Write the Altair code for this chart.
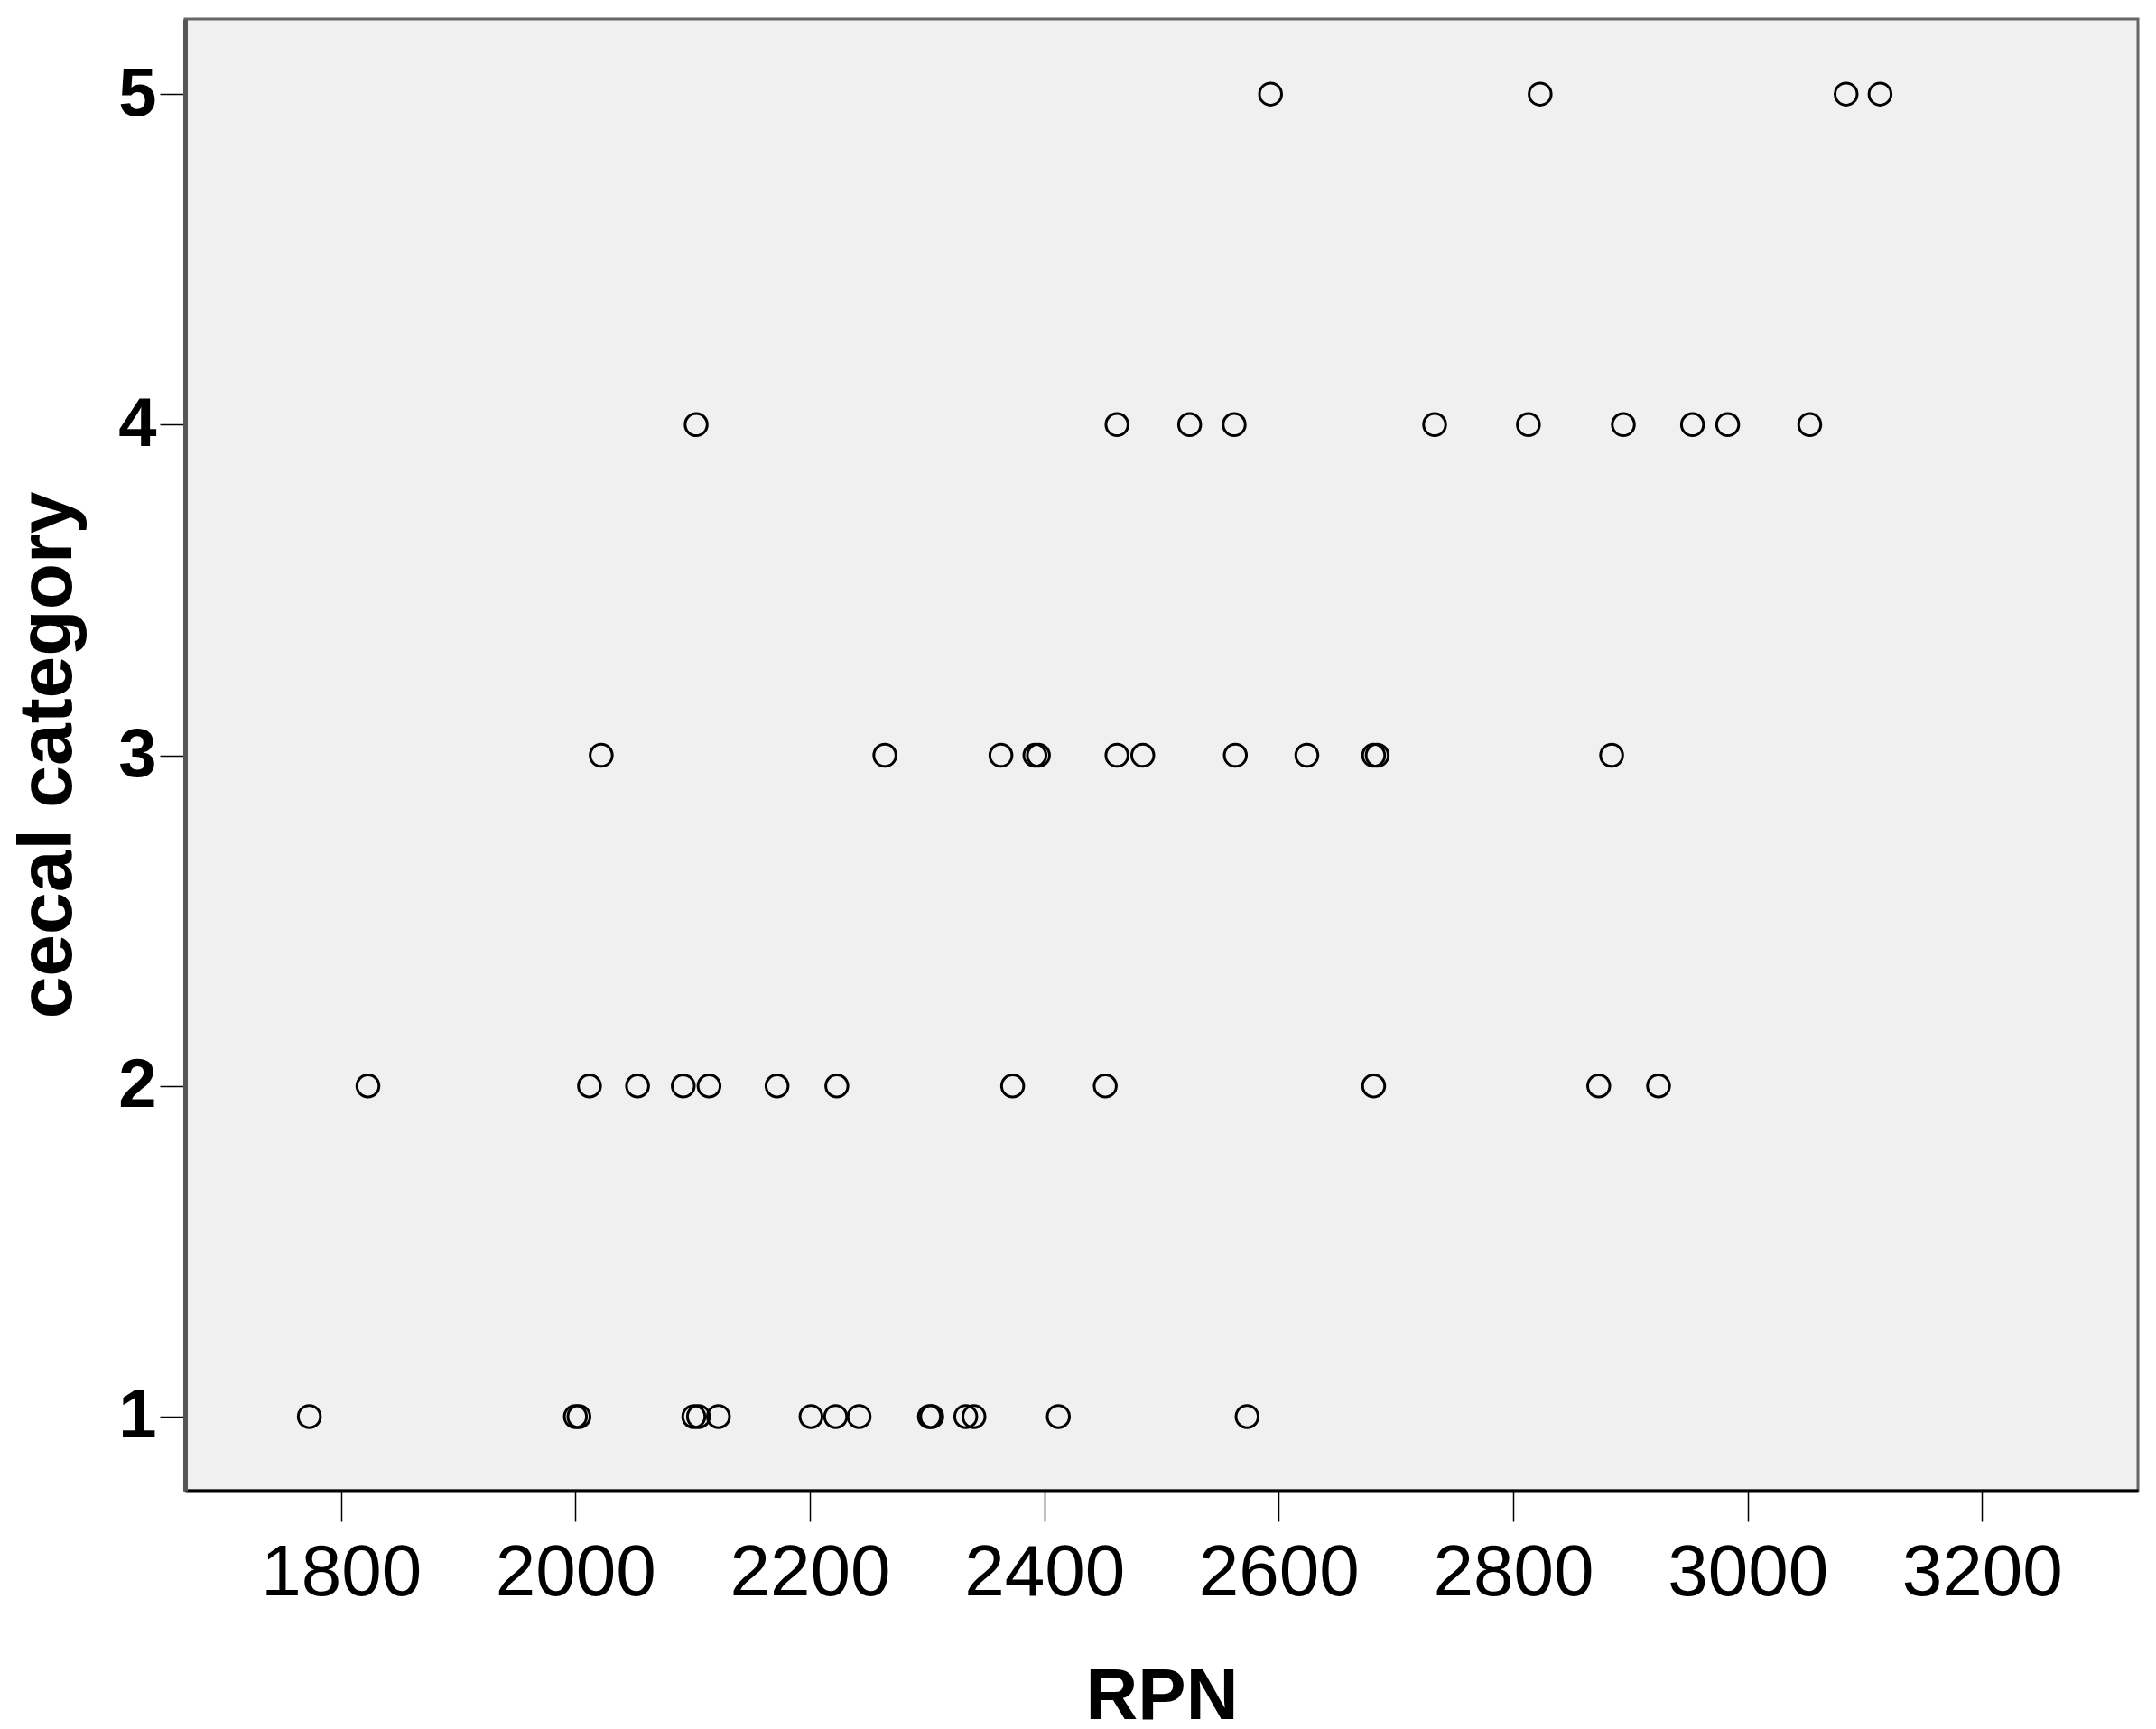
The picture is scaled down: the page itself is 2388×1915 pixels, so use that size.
import altair as alt
import pandas as pd

cat1 = [1773, 2000, 2003, 2101, 2105, 2122, 2201, 2222, 2242, 2302, 2304, 2333, 2340, 2412, 2573]
cat2 = [1823, 2012, 2053, 2092, 2114, 2172, 2223, 2373, 2452, 2681, 2873, 2924]
cat3 = [2022, 2264, 2363, 2392, 2395, 2462, 2484, 2563, 2624, 2681, 2684, 2884]
cat4 = [2103, 2462, 2524, 2562, 2733, 2813, 2894, 2953, 2983, 3053]
cat5 = [2593, 2823, 3084, 3113]

x_ticks = [1800, 2000, 2200, 2400, 2600, 2800, 3000, 3200]
y_ticks = [1, 2, 3, 4, 5]

rows = []
for c, vals in zip(y_ticks, [cat1, cat2, cat3, cat4, cat5]):
    for v in vals:
        rows.append({"RPN": v, "cecal category": c})
df = pd.DataFrame(rows)

FONT = "Liberation Sans"

chart = alt.Chart(df).mark_point(
    shape="circle", filled=False, color="black", size=600, strokeWidth=3, opacity=1
).encode(
    x=alt.X("RPN:Q",
            scale=alt.Scale(domain=[1667, 3333], nice=False, zero=False),
            axis=alt.Axis(values=x_ticks, format="d", grid=False,
                          domainColor="black", domainWidth=4,
                          tickColor="black", tickWidth=1.5, tickSize=34,
                          labelFont=FONT, labelFontSize=80, labelColor="black",
                          labelPadding=18,
                          title="RPN", titleFont=FONT, titleFontSize=80,
                          titleFontWeight="bold", titleColor="black",
                          titlePadding=58)),
    y=alt.Y("cecal category:Q",
            scale=alt.Scale(domain=[0.776, 5.227], nice=False, zero=False),
            axis=alt.Axis(values=y_ticks, format="d", grid=False,
                          domainColor="#555555", domainWidth=5,
                          tickColor="black", tickWidth=1.5, tickSize=28,
                          labelFont=FONT, labelFontSize=76, labelFontWeight="bold",
                          labelColor="black", labelPadding=4,
                          title="cecal category", titleFont=FONT, titleFontSize=84,
                          titleFontWeight="bold", titleColor="black",
                          titlePadding=34)),
).properties(
    width=2163,
    height=1630,
    background="white",
    autosize=alt.AutoSizeParams(type="none"),
    padding={"left": 197, "top": 13, "right": 12, "bottom": 264},
).configure_view(
    fill="#f0f0f0", stroke="#666666", strokeWidth=3
)

chart.save("out.html", embed_options={"renderer": "svg", "actions": False})
